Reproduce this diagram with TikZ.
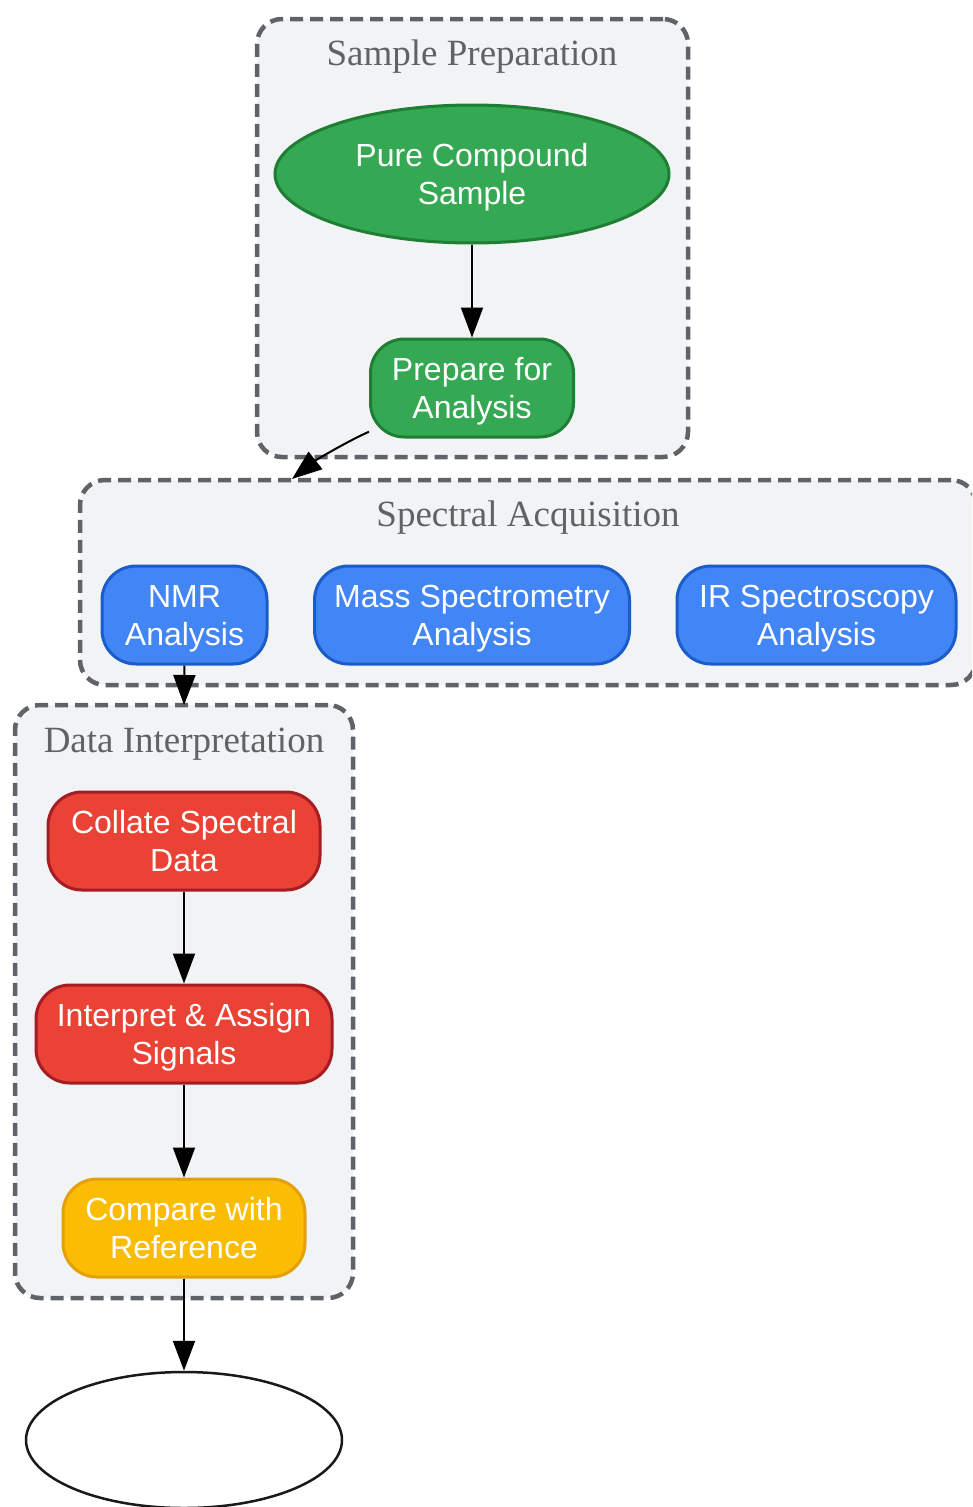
\documentclass[tikz,border=0pt]{standalone}
\usepackage{fontspec}
\setmainfont{Liberation Serif}
\newfontfamily\nodefont{Liberation Sans}
\usetikzlibrary{shapes.geometric,arrows.meta}
\definecolor{clfill}{HTML}{F1F3F4}
\definecolor{cldraw}{HTML}{5F6368}
\definecolor{gfill}{HTML}{34A853}
\definecolor{gdraw}{HTML}{1E7E34}
\definecolor{bfill}{HTML}{4285F4}
\definecolor{bdraw}{HTML}{1A5DC8}
\definecolor{rfill}{HTML}{EA4335}
\definecolor{rdraw}{HTML}{A51C24}
\definecolor{yfill}{HTML}{FBBC04}
\definecolor{ydraw}{HTML}{E3A008}
\newcommand\twolines[2]{\raisebox{-4pt}[\height][\depth]{\begin{tabular}{@{}c@{}}#1\\#2\end{tabular}}}
\begin{document}
\begin{tikzpicture}[x=1pt,y=-1pt,
  cluster/.style={draw=cldraw, fill=clfill, line width=4.5pt, dash pattern=on 13pt off 7pt,
    rounded corners=25pt, inner sep=0pt, rectangle},
  ctitle/.style={text=cldraw, font=\fontsize{37}{44}\selectfont, anchor=base, inner sep=0pt},
  box/.style={rectangle, rounded corners=34pt, line width=3pt, text=white,
    font=\nodefont\fontsize{32}{38}\selectfont, minimum height=98pt, inner sep=0pt},
  greenbox/.style={box, fill=gfill, draw=gdraw},
  bluebox/.style={box, fill=bfill, draw=bdraw},
  redbox/.style={box, fill=rfill, draw=rdraw},
  yellowbox/.style={box, fill=yfill, draw=ydraw},
  arrow/.style={draw=black, line width=2pt, line join=miter,
    -{Triangle[length=30pt,width=22pt]}},
]
\useasboundingbox (0,0) rectangle (972,1507);
\clip (0,0) rectangle (972,1507);

% clusters
\node[cluster, minimum width=431pt, minimum height=438pt] (spc) at (472.5,238) {};
\node[ctitle] (spt) at (472,65) {Sample Preparation};
\node[cluster, minimum width=896pt, minimum height=205pt] (sac) at (528,582.5) {};
\node[ctitle] (sat) at (528,526) {Spectral Acquisition};
\node[cluster, minimum width=338pt, minimum height=593pt] (dic) at (184,1001.5) {};
\node[ctitle] (dit) at (184,752) {Data Interpretation};

% nodes
\node[ellipse, fill=gfill, draw=gdraw, line width=3pt, text=white,
  font=\nodefont\fontsize{32}{38}\selectfont, minimum width=394pt, minimum height=138pt,
  inner sep=0pt] (pure) at (472,174) {\twolines{Pure Compound}{Sample}};
\node[greenbox, minimum width=203pt] (prep) at (472,388) {\twolines{Prepare for}{Analysis}};

\node[bluebox, minimum width=165pt] (nmr) at (184.5,615) {\twolines{NMR}{Analysis}};
\node[bluebox, minimum width=315pt] (ms) at (472,615) {\twolines{Mass Spectrometry}{Analysis}};
\node[bluebox, minimum width=279pt] (ir) at (816.5,615) {\twolines{IR Spectroscopy}{Analysis}};

\node[redbox, minimum width=272pt] (coll) at (184,841) {\twolines{Collate Spectral}{Data}};
\node[redbox, minimum width=296pt] (interp) at (184,1034) {\twolines{Interpret \& Assign}{Signals}};
\node[yellowbox, minimum width=242pt] (comp) at (184,1228) {\twolines{Compare with}{Reference}};

\node[ellipse, draw=black!90, fill=white, line width=2.5pt, minimum width=316pt,
  minimum height=136pt, inner sep=0pt] (final) at (184,1440) {};

% entry points of compound edges
\coordinate (saentry) at (292,479);
\coordinate (dientry) at (184,705);

% edges
\draw[arrow] (pure.south) -- (prep.north);
\draw[arrow] (prep.203) .. controls (348,441) and (316,460) .. (saentry);
\draw[arrow] (nmr.south) -- (dientry);
\draw[arrow] (coll.south) -- (interp.north);
\draw[arrow] (interp.south) -- (comp.north);
\draw[arrow] (comp.south) -- (final.north);
\end{tikzpicture}
\end{document}
